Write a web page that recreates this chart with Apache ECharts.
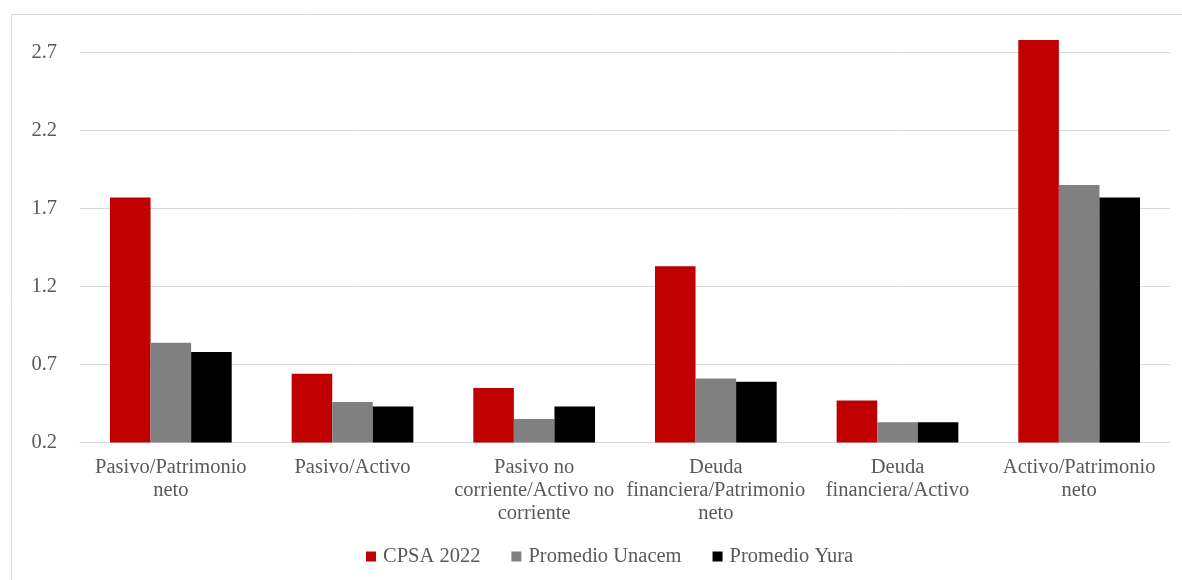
<!DOCTYPE html>
<html>
<head>
<meta charset="utf-8">
<script src="https://cdn.jsdelivr.net/npm/echarts@6/dist/echarts.min.js"></script>
<style>
  html, body { margin: 0; padding: 0; background: #ffffff; }
  #chart { width: 1182px; height: 580px; }
</style>
</head>
<body>
<div id="chart"></div>
<script>
// Ratios (wrapped for the axis labels)
const categories = [
  'Pasivo/Patrimonio\nneto',
  'Pasivo/Activo',
  'Pasivo no\ncorriente/Activo no\ncorriente',
  'Deuda\nfinanciera/Patrimonio\nneto',
  'Deuda\nfinanciera/Activo',
  'Activo/Patrimonio\nneto'
];
const cpsa2022 = [1.77, 0.64, 0.55, 1.33, 0.47, 2.78];
const promedioUnacem = [0.84, 0.46, 0.35, 0.61, 0.33, 1.85];
const promedioYura = [0.78, 0.43, 0.43, 0.59, 0.33, 1.77];
const yMin = 0.2, yMax = 2.9, yStep = 0.5;

const textColor = '#595959';
const fontFamily = '"Liberation Serif", "Times New Roman", serif';

const chart = echarts.init(document.getElementById('chart'), null, { renderer: 'canvas' });
chart.setOption({
  backgroundColor: '#ffffff',
  animation: false,
  graphic: [{
    type: 'rect',
    shape: { x: 11.5, y: 14.5, width: 1200, height: 600 },
    style: { fill: 'none', stroke: '#D9D9D9', lineWidth: 1 },
    silent: true
  }],
  grid: { left: 80, right: 12, top: 21.3, bottom: 137.5, containLabel: false },
  legend: {
    bottom: 8,
    left: 361,
    itemWidth: 10,
    itemHeight: 10,
    itemGap: 31,
    icon: 'rect',
    textStyle: { color: textColor, fontSize: 20.5, fontFamily: fontFamily, padding: [0, 0, 0, 2] },
    data: ['CPSA 2022', 'Promedio Unacem', 'Promedio Yura']
  },
  xAxis: {
    type: 'category',
    data: categories,
    axisLine: { show: true, lineStyle: { color: '#D9D9D9', width: 1 } },
    axisTick: { show: false },
    axisLabel: {
      color: textColor,
      fontSize: 20.5,
      fontFamily: fontFamily,
      lineHeight: 23,
      margin: 14,
      interval: 0
    }
  },
  yAxis: {
    type: 'value',
    min: yMin,
    max: yMax,
    interval: yStep,
    axisLine: { show: false },
    axisTick: { show: false },
    axisLabel: {
      color: textColor,
      fontSize: 20.5,
      fontFamily: fontFamily,
      margin: 23,
      showMaxLabel: false,
      formatter: v => v.toFixed(1)
    },
    splitLine: { show: true, showMaxLine: false, lineStyle: { color: '#D9D9D9', width: 1 } }
  },
  series: [
    { name: 'CPSA 2022', type: 'bar', data: cpsa2022, itemStyle: { color: '#C00000' },
      barGap: '0%', barCategoryGap: '33%' },
    { name: 'Promedio Unacem', type: 'bar', data: promedioUnacem, itemStyle: { color: '#808080' },
      barGap: '0%', barCategoryGap: '33%' },
    { name: 'Promedio Yura', type: 'bar', data: promedioYura, itemStyle: { color: '#000000' },
      barGap: '0%', barCategoryGap: '33%' }
  ]
});
</script>
</body>
</html>
